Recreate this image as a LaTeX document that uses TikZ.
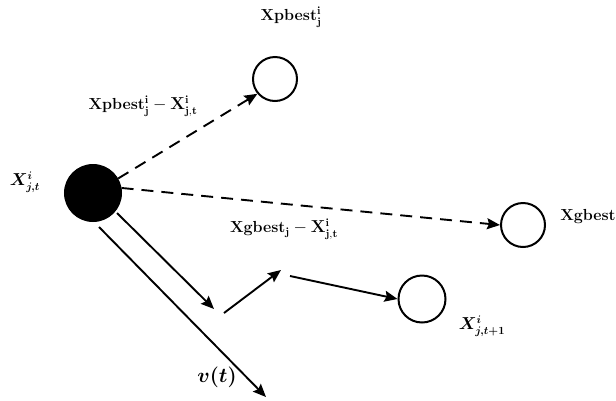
\documentclass[tikz,border=0pt]{standalone}
\usepackage{bm}
\usetikzlibrary{arrows.meta}
\begin{document}
\begin{tikzpicture}[x=1pt,y=-1pt,
  particle/.style={circle,draw=black,line width=2pt,minimum size=#1,inner sep=0pt},
  conn/.style={line width=1.9pt,-{Stealth[length=13pt,width=11pt,inset=2pt]}},
  dconn/.style={conn,dash pattern=on 12pt off 8pt},
  lbl/.style={font=\bfseries\fontsize{16}{18}\selectfont,inner sep=1pt}]
\useasboundingbox (0,0) rectangle (616,400);
\node[particle=56pt,fill=black] (cur) at (93,193) {};
\node[particle=44pt] (pb) at (275,79) {};
\node[particle=44pt] (gb) at (523,225) {};
\node[particle=47pt] (nx) at (422,299) {};
\coordinate (a1s) at (117,213);
\coordinate (a1e) at (214,309);
\coordinate (a3s) at (224,313);
\coordinate (a3e) at (281,270);
\coordinate (a4s) at (290,276);
\coordinate (vs) at (99,227);
\coordinate (ve) at (266,397);
\draw[dconn] (cur.30) -- (pb.220);
\draw[dconn] (cur.10) -- (gb.west);
\draw[conn] (a1s) -- (a1e);
\draw[conn] (a3s) -- (a3e);
\draw[conn] (a4s) -- (nx.west);
\draw[conn] (vs) -- (ve);
\node[lbl] (l1) at (291,17) {Xpbest$_{\mathbf{j}}^{\mathbf{i}}$};
\node[lbl] (l2) at (143,106) {Xpbest$_{\mathbf{j}}^{\mathbf{i}}-\mathbf{X}_{\mathbf{j,t}}^{\mathbf{i}}$};
\node[lbl] (l3) at (25,182) {$\bm{X_{j,t}^{i}}$};
\node[lbl] (l4) at (284,229) {Xgbest$_{\mathbf{j}}-\mathbf{X}_{\mathbf{j,t}}^{\mathbf{i}}$};
\node[lbl] (l5) at (588,217) {Xgbest};
\node[lbl] (l6) at (482,326) {$\bm{X_{j,t+1}^{i}}$};
\node[font=\fontsize{21}{24}\selectfont,inner sep=1pt] (l7) at (217,377) {$\bm{v(t)}$};
\end{tikzpicture}
\end{document}
